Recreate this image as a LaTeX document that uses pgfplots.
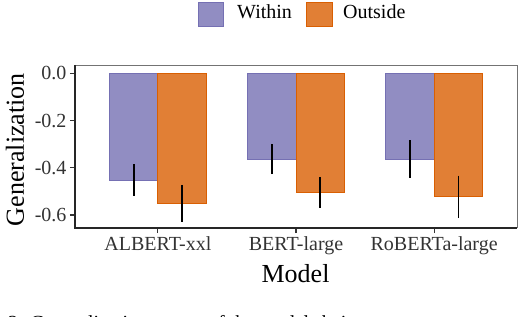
\documentclass[border=0pt]{standalone}
\usepackage{fontspec}
\setmainfont{Liberation Serif}
\usepackage{pgfplots}
\pgfplotsset{compat=1.18}
\definecolor{within}{HTML}{7570B3}
\definecolor{outside}{HTML}{D95F02}
\definecolor{withinfill}{RGB}{145,141,194}
\definecolor{outsidefill}{RGB}{225,127,53}
\begin{document}
\begin{tikzpicture}
\begin{axis}[
  at={(0,0)}, anchor=south west,
  width=442pt, height=163pt, scale only axis,
  xmin=-0.6, xmax=2.6, ymin=-0.655, ymax=0.035,
  axis line style={draw=none},
  ybar=0pt, bar width=0.35,
  xtick={0,1,2}, xticklabels={ALBERT-xxl,BERT-large,RoBERTa-large},
  ytick={0,-0.2,-0.4,-0.6}, yticklabels={\textrm{0.0},\textrm{-0.2},\textrm{-0.4},\textrm{-0.6}},
  tick align=outside, xtick pos=left, ytick pos=left,
  major tick length=5pt,
  tick style={line width=1.2pt, color=black!80},
  ticklabel style={font=\fontsize{20}{24}\selectfont, text=black!80},
  xlabel={Model}, ylabel={Generalization},
  label style={font=\fontsize{26}{30}\selectfont},
  xlabel style={at={(axis description cs:0.499,0)}, yshift=-54pt, anchor=base},
  ylabel style={at={(axis description cs:-0.1357,0.48)}, anchor=center},
]
\addplot[fill=withinfill, draw=within, line width=0.8pt,
  error bars/.cd, y dir=both, y explicit, error mark=none,
  error bar style={line width=1.6pt, black}]
  coordinates {(0,-0.452) +- (0,0.066) (1,-0.363) +- (0,0.064) (2,-0.363) +- (0,0.080)};
\addplot[fill=outsidefill, draw=outside, line width=0.8pt,
  error bars/.cd, y dir=both, y explicit, error mark=none,
  error bar style={line width=1.6pt, black}]
  coordinates {(0,-0.551) +- (0,0.079) (1,-0.504) +- (0,0.065) (2,-0.523) +- (0,0.090)};
\end{axis}
\draw[black!55, line width=0.8pt] (0,163pt) -- (442pt,163pt) -- (442pt,0);
\draw[black!85, line width=1.6pt] (0,163pt) -- (0,0) -- (442pt,0);
% legend
\draw[fill=withinfill, draw=within, line width=0.8pt] (123pt,202pt) rectangle (148pt,226pt);
\node[anchor=base west, inner sep=0pt, font=\fontsize{20}{24}\selectfont] at (162pt,209.5pt) {Within};
\draw[fill=outsidefill, draw=outside, line width=0.8pt] (231pt,202pt) rectangle (257pt,226pt);
\node[anchor=base west, inner sep=0pt, font=\fontsize{20}{24}\selectfont] at (268pt,209.5pt) {Outside};
\node[anchor=north west, font=\fontsize{20}{24}\selectfont, inner sep=0pt] at (-67pt,-87.5pt) {2: Generalization scores of the models being};
\pgfresetboundingbox
\useasboundingbox (-75pt,-88pt) rectangle (443pt,228pt);
\end{tikzpicture}
\end{document}
